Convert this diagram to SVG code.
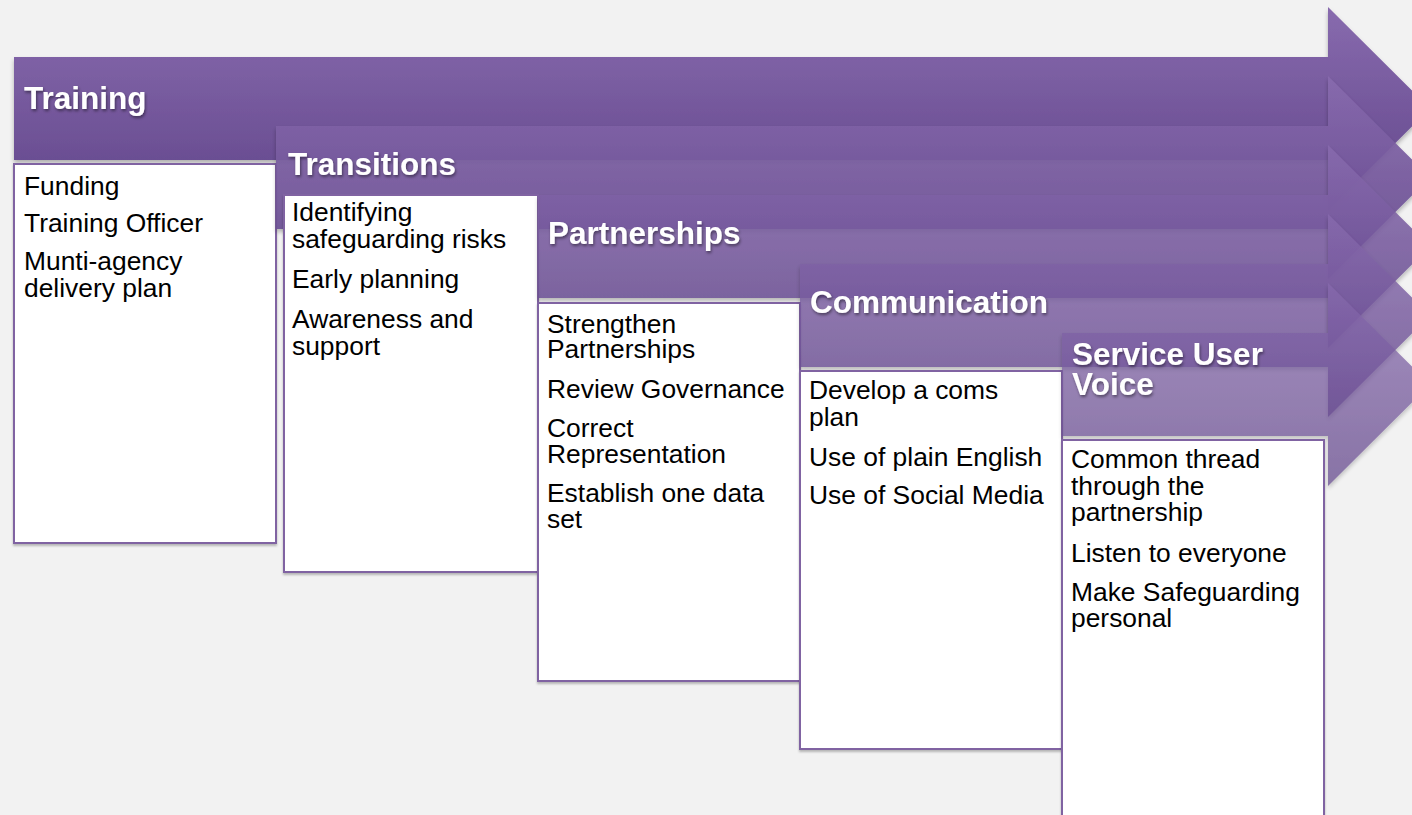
<svg xmlns="http://www.w3.org/2000/svg" width="1412" height="815" viewBox="0 0 1412 815">
<defs>
<linearGradient id="ag" x1="0" y1="0" x2="0" y2="1">
<stop offset="0" stop-color="#886bae"/>
<stop offset="1" stop-color="#61458a"/>
</linearGradient>
<filter id="ash" x="-5%" y="-10%" width="110%" height="130%">
<feDropShadow dx="0" dy="3" stdDeviation="2" flood-color="#000" flood-opacity="0.28"/>
</filter>
<filter id="bsh" x="-5%" y="-5%" width="110%" height="110%">
<feDropShadow dx="0" dy="2" stdDeviation="1.2" flood-color="#000" flood-opacity="0.25"/>
</filter>
<filter id="tsh" x="-10%" y="-30%" width="120%" height="160%">
<feDropShadow dx="1" dy="2" stdDeviation="1.5" flood-color="#000" flood-opacity="0.45"/>
</filter>
</defs>
<style>
.arrow{fill:url(#ag);filter:url(#ash)}
.box{fill:#fff;stroke:#8064a2;stroke-width:2;filter:url(#bsh)}
.title{font-family:"Liberation Sans",Arial,sans-serif;font-weight:bold;font-size:31.5px;fill:#fff;filter:url(#tsh)}
.item{font-family:"Liberation Sans",Arial,sans-serif;font-size:26.4px;fill:#000}
</style>
<rect width="1412" height="815" fill="#f2f2f2"/>
<g id="connectors"></g>

<g id="training">
<polygon class="arrow" points="14,57 1328,57 1328,7 1430,108.5 1328,210 1328,160 14,160"/>
<text class="title" x="24" y="109">Training</text>
<rect class="box" x="14" y="164" width="262" height="379"/>
<text class="item" x="24" y="195">Funding</text>
<text class="item" x="24" y="232">Training Officer</text>
<text class="item" x="24" y="270">Munti-agency</text>
<text class="item" x="24" y="297">delivery plan</text>
</g>

<g id="transitions">
<polygon class="arrow" opacity="0.93" points="276,126 1328,126 1328,76 1430,177.5 1328,279 1328,229 276,229"/>
<text class="title" x="288" y="175">Transitions</text>
<rect class="box" x="284" y="195" width="254" height="377"/>
<text class="item" x="292" y="221">Identifying</text>
<text class="item" x="292" y="248">safeguarding risks</text>
<text class="item" x="292" y="288">Early planning</text>
<text class="item" x="292" y="328">Awareness and</text>
<text class="item" x="292" y="355">support</text>
</g>

<g id="partnerships">
<polygon class="arrow" opacity="0.87" points="538,195 1328,195 1328,145 1430,246.5 1328,348 1328,298 538,298"/>
<text class="title" x="548" y="244">Partnerships</text>
<rect class="box" x="538" y="303" width="262" height="378"/>
<text class="item" x="547" y="333">Strengthen</text>
<text class="item" x="547" y="358">Partnerships</text>
<text class="item" x="547" y="398">Review Governance</text>
<text class="item" x="547" y="437">Correct</text>
<text class="item" x="547" y="463">Representation</text>
<text class="item" x="547" y="502">Establish one data</text>
<text class="item" x="547" y="528">set</text>
</g>

<g id="communication">
<polygon class="arrow" opacity="0.81" points="800,264 1328,264 1328,214 1430,315.5 1328,417 1328,367 800,367"/>
<text class="title" x="810" y="313">Communication</text>
<rect class="box" x="800" y="371" width="262" height="378"/>
<text class="item" x="809" y="399">Develop a coms</text>
<text class="item" x="809" y="426">plan</text>
<text class="item" x="809" y="466">Use of plain English</text>
<text class="item" x="809" y="504">Use of Social Media</text>
</g>

<g id="service-user-voice">
<polygon class="arrow" opacity="0.73" points="1062,333 1328,333 1328,283 1430,384.5 1328,486 1328,436 1062,436"/>
<text class="title" x="1072" y="365">Service User</text>
<text class="title" x="1072" y="395">Voice</text>
<rect class="box" x="1062" y="440" width="262" height="400"/>
<text class="item" x="1071" y="468">Common thread</text>
<text class="item" x="1071" y="495">through the</text>
<text class="item" x="1071" y="521">partnership</text>
<text class="item" x="1071" y="562">Listen to everyone</text>
<text class="item" x="1071" y="601">Make Safeguarding</text>
<text class="item" x="1071" y="627">personal</text>
</g>
</svg>
